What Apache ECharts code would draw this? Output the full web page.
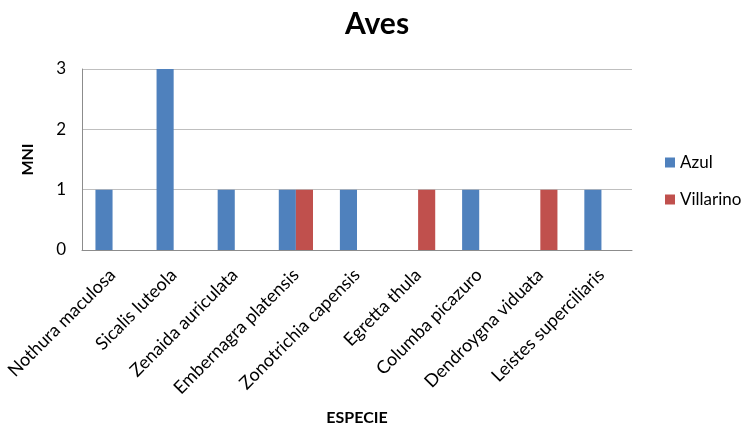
<!DOCTYPE html>
<html>
<head>
<meta charset="utf-8">
<script src="https://cdn.jsdelivr.net/npm/echarts@6/dist/echarts.min.js"></script>
<style>
  html, body { margin: 0; padding: 0; background: #fff; }
  #chart { width: 744px; height: 427px; }
</style>
</head>
<body>
<div id="chart"></div>
<script>
// datos
const especies = [
  'Nothura maculosa',
  'Sicalis luteola',
  'Zenaida auriculata',
  'Embernagra platensis',
  'Zonotrichia capensis',
  'Egretta thula',
  'Columba picazuro',
  'Dendroygna viduata',
  'Leistes superciliaris'
]
const azul = [1, 3, 1, 1, 1, 0, 1, 0, 1]
const villarino = [0, 0, 0, 1, 0, 1, 0, 1, 0]
const yTicks = [0, 1, 2, 3]

const font = 'Lato, "Open Sans", sans-serif'

const chart = echarts.init(document.getElementById('chart'))

chart.setOption({
  animation: false,
  color: ['#4f81bd', '#c0504d'],
  title: {
    text: 'Aves',
    left: 372,
    textAlign: 'center',
    top: 4,
    textStyle: { fontFamily: font, fontSize: 30, fontWeight: 'bold', color: '#000' }
  },
  legend: {
    orient: 'vertical',
    left: 660,
    top: 149,
    itemWidth: 10,
    itemHeight: 10,
    itemGap: 20,
    icon: 'rect',
    textStyle: { fontFamily: font, fontSize: 17, color: '#000' },
    data: ['Azul', 'Villarino']
  },
  grid: { left: 82, right: 112, top: 69, bottom: 177 },
  xAxis: {
    type: 'category',
    data: especies,
    name: 'ESPECIE',
    nameLocation: 'middle',
    nameGap: 160,
    nameTextStyle: { fontFamily: font, fontSize: 16, fontWeight: 'bold', color: '#000' },
    axisLine: { lineStyle: { color: '#8c8c8c' } },
    axisTick: { show: false },
    axisLabel: {
      interval: 0,
      rotate: 45,
      margin: 22,
      fontFamily: font,
      fontSize: 18,
      color: '#000'
    }
  },
  yAxis: {
    type: 'value',
    min: yTicks[0],
    max: yTicks[yTicks.length - 1],
    interval: 1,
    name: 'MNI',
    nameLocation: 'middle',
    nameGap: 46,
    nameTextStyle: { fontFamily: font, fontSize: 16, fontWeight: 'bold', color: '#000' },
    axisLine: { show: true, lineStyle: { color: '#8c8c8c' } },
    axisTick: { show: false },
    axisLabel: { margin: 16, fontFamily: font, fontSize: 17, color: '#000' },
    splitLine: { lineStyle: { color: '#bfbfbf' } }
  },
  series: [
    { name: 'Azul', type: 'bar', data: azul, barGap: 0, barCategoryGap: '44%' },
    { name: 'Villarino', type: 'bar', data: villarino, barGap: 0, barCategoryGap: '44%' }
  ]
})
</script>
</body>
</html>
